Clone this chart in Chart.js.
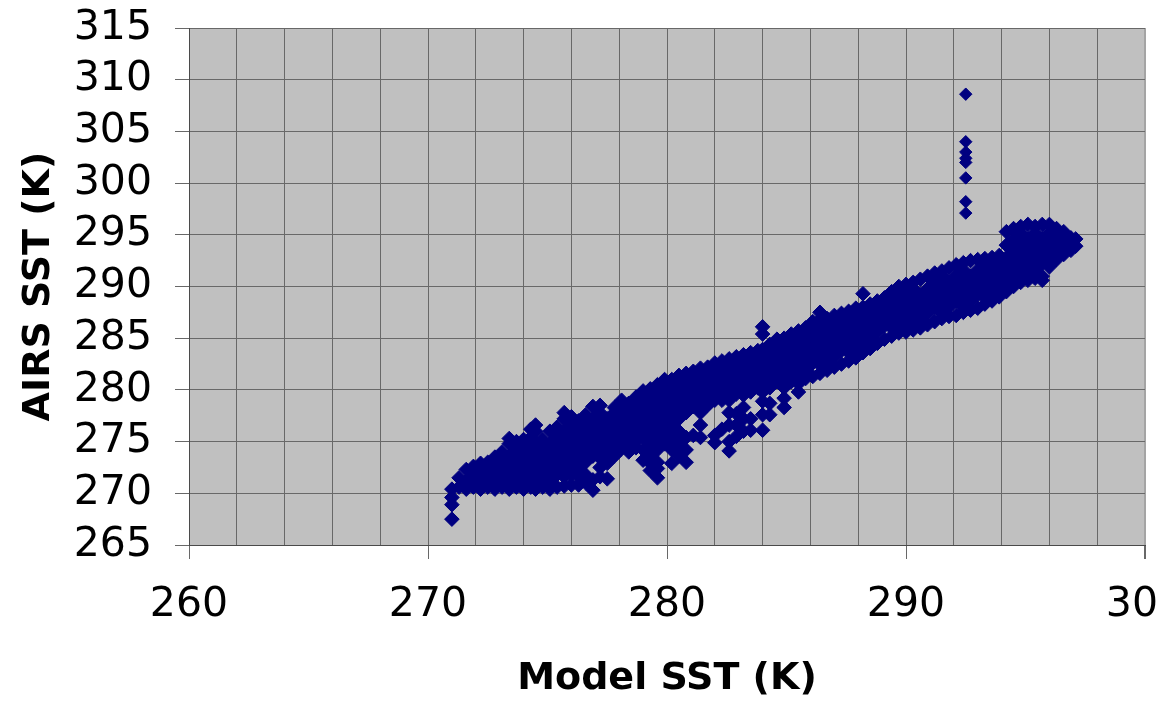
<!DOCTYPE html>
<html lang="en">
<head>
<meta charset="UTF-8">
<title>AIRS SST vs Model SST</title>
<script src="https://cdn.jsdelivr.net/npm/chart.js"></script>
<style>
  html, body { margin: 0; padding: 0; background: #fff; overflow: hidden; }
  /* the original picture is cut on the right, through the "300" label */
  .recorte { width: 1157px; height: 702px; overflow: hidden; }
</style>
</head>
<body>
<div class="recorte">
  <canvas id="graficoSST" width="1185" height="702"></canvas>
</div>

<script>
// Model SST (K) of each column of points
const bandX = [
  271.0, 271.3, 271.6, 271.9, 272.2, 272.5, 272.8, 273.1, 273.4, 273.7,
  274.0, 274.3, 274.5, 274.8, 275.1, 275.4, 275.7, 276.0, 276.3, 276.6,
  276.9, 277.2, 277.5, 277.8, 278.1, 278.4, 278.7, 279.0, 279.3, 279.6,
  279.9, 280.2, 280.5, 280.8, 281.1, 281.4, 281.7, 282.0, 282.3, 282.6,
  282.9, 283.2, 283.5, 283.8, 284.0, 284.3, 284.6, 284.9, 285.2, 285.5,
  285.8, 286.1, 286.4, 286.7, 287.0, 287.3, 287.6, 287.9, 288.2, 288.5,
  288.8, 289.1, 289.4, 289.7, 290.0, 290.3, 290.6, 290.9, 291.2, 291.5,
  291.8, 292.1, 292.4, 292.7, 293.0, 293.3, 293.6, 293.9, 294.2, 294.5,
  294.8, 295.1, 295.4, 295.7, 296.0, 296.3, 296.6, 296.9, 297.1
];

// AIRS SST (K) of the points in each of those columns
const bandY = [
  [267.5, 268.9, 269.6, 270.4],
  [270.6, 271.5],
  [270.4, 271.2, 272.3],
  [270.6, 271.8, 272.6],
  [270.4, 271.2, 272.4, 272.9],
  [270.6, 271.8, 273.0],
  [270.4, 271.2, 272.4, 273.5],
  [270.6, 271.8, 273.0, 274.0],
  [270.4, 271.2, 272.4, 273.6, 274.8, 275.3],
  [270.6, 271.8, 273.0, 274.2, 275.0],
  [270.4, 271.2, 272.4, 273.6, 274.8, 275.2],
  [270.6, 271.8, 273.0, 274.2, 275.4, 276.2],
  [270.4, 271.2, 272.4, 273.6, 274.8, 276.0, 276.6],
  [270.6, 271.8, 273.0, 274.2, 275.2],
  [270.4, 271.2, 272.4, 273.6, 274.8, 276.0],
  [270.6, 271.8, 273.0, 274.2, 275.4, 276.4],
  [270.7, 271.6, 272.4, 273.6, 274.8, 276.0, 277.2, 277.8],
  [270.8, 271.8, 273.0, 274.2, 275.4, 276.6, 277.4],
  [270.8, 271.6, 272.4, 273.6, 274.8, 276.0, 277.0],
  [271.0, 271.8, 273.0, 274.2, 275.4, 276.6, 277.6],
  [270.3, 271.3, 273.6, 274.8, 276.0, 277.2, 278.4],
  [271.6, 272.5, 273.4, 274.2, 275.4, 276.6, 277.8, 278.5],
  [271.4, 272.9, 273.6, 274.8, 276.0, 277.2],
  [273.6, 274.2, 275.4, 276.6, 277.8, 278.3],
  [274.3, 274.8, 276.0, 277.2, 278.4, 279.0],
  [274.0, 274.7, 275.4, 276.6, 277.8, 278.7],
  [274.4, 275.0, 276.0, 277.2, 278.4, 279.3],
  [273.2, 274.2, 275.4, 276.6, 277.8, 279.0, 279.9],
  [272.2, 272.9, 273.6, 274.8, 276.0, 277.2, 278.4, 279.6, 280.1],
  [271.5, 272.4, 273.0, 274.2, 275.4, 276.6, 277.8, 279.0, 280.2, 280.5],
  [274.8, 276.0, 277.2, 278.4, 279.6, 280.8, 281.0],
  [272.9, 274.2, 275.4, 276.6, 277.8, 279.0, 280.2, 281.0],
  [273.6, 274.8, 276.0, 277.2, 278.4, 279.6, 280.8, 281.4],
  [273.0, 274.2, 275.4, 277.8, 279.0, 280.2, 281.4, 281.6],
  [275.6, 278.4, 279.6, 280.8, 281.8],
  [275.4, 276.6, 277.8, 279.0, 280.2, 281.4, 282.1],
  [278.5, 279.6, 280.8, 282.0, 282.2],
  [274.9, 275.6, 279.0, 280.2, 281.4, 282.6],
  [276.2, 279.0, 279.6, 280.8, 282.0, 282.8],
  [274.1, 275.0, 276.6, 277.8, 279.0, 280.2, 281.4, 282.6, 283.0],
  [275.5, 276.6, 277.7, 279.6, 280.8, 282.0, 283.2],
  [276.0, 277.2, 278.3, 279.5, 280.2, 281.4, 282.6, 283.4],
  [276.1, 277.2, 279.8, 280.8, 282.0, 283.2, 283.6],
  [280.2, 281.4, 282.6, 283.8],
  [276.1, 277.6, 278.9, 279.8, 280.8, 282.0, 283.2, 283.9, 285.4, 286.1],
  [277.6, 278.7, 280.2, 281.4, 282.6, 283.8, 284.4],
  [280.8, 282.0, 283.2, 284.4, 284.9],
  [278.3, 279.2, 280.2, 281.4, 282.6, 283.8, 285.0],
  [280.8, 282.0, 283.2, 284.4, 285.4],
  [279.8, 280.6, 281.4, 282.6, 283.8, 285.0, 285.7],
  [281.1, 282.0, 283.2, 284.4, 285.6, 286.0],
  [281.3, 282.6, 283.8, 285.0, 286.2, 286.6],
  [281.6, 282.4, 283.2, 284.4, 285.6, 286.8, 287.5],
  [281.9, 282.6, 283.8, 285.0, 286.2, 286.9],
  [282.2, 283.2, 284.4, 285.6, 286.8, 287.2],
  [282.5, 283.8, 285.0, 286.2, 287.4],
  [282.8, 283.6, 284.4, 285.6, 286.8, 287.6],
  [283.1, 283.8, 285.0, 286.2, 287.4, 287.9],
  [283.6, 284.4, 285.6, 286.8, 288.0, 289.3],
  [284.0, 285.0, 286.2, 287.4, 288.3],
  [284.5, 285.6, 286.8, 288.0, 288.6],
  [284.9, 286.2, 287.4, 288.6, 288.9],
  [285.2, 286.0, 286.8, 288.0, 289.2, 289.5],
  [285.5, 286.2, 287.4, 288.6, 289.8, 290.0],
  [285.6, 286.8, 288.0, 289.2, 290.2],
  [285.8, 286.2, 287.4, 288.6, 289.8, 290.4],
  [286.0, 286.8, 288.0, 289.2, 290.7],
  [286.3, 287.4, 288.6, 289.8, 291.0],
  [286.6, 288.0, 289.2, 290.4, 291.3],
  [286.9, 287.4, 288.6, 289.8, 291.0, 291.5],
  [287.1, 288.0, 289.2, 290.4, 291.8],
  [287.2, 288.6, 289.8, 291.0, 292.1],
  [287.5, 288.0, 289.2, 290.4, 291.6, 292.3],
  [287.7, 288.6, 289.8, 291.0, 292.5],
  [287.9, 289.2, 290.4, 291.6, 292.6],
  [288.3, 288.9, 289.8, 291.0, 292.2, 292.7],
  [288.6, 289.2, 290.4, 291.6, 292.8],
  [289.0, 289.8, 291.0, 292.2, 293.0],
  [289.5, 290.4, 291.6, 292.8, 294.0, 295.3],
  [290.0, 291.0, 292.2, 293.4, 294.6, 295.6],
  [290.4, 291.6, 292.8, 294.0, 295.2, 295.8],
  [290.6, 291.0, 292.2, 293.4, 294.6, 296.0],
  [290.8, 291.6, 292.8, 294.0, 295.2, 295.8],
  [290.6, 291.0, 292.2, 293.4, 294.6, 296.0],
  [291.9, 292.8, 294.0, 295.2, 296.0],
  [292.6, 293.4, 294.6, 295.6],
  [293.1, 294.0, 295.3],
  [293.5, 294.7],
  [293.9, 294.6]
];

// the vertical run of stray points near 292.5 K
const outlierX = [292.5, 292.5, 292.5, 292.5, 292.5, 292.5, 292.5, 292.5];
const outlierY = [297.1, 298.2, 300.5, 302.0, 302.4, 303.0, 304.0, 308.6];

const xTicks = [260, 270, 280, 290, 300];

const pontosBanda = [];
bandX.forEach((x, i) => {
  bandY[i].forEach(y => pontosBanda.push({ x: x, y: y }));
});
const pontosFora = outlierX.map((x, i) => ({ x: x, y: outlierY[i] }));

// gray plot area
const fundoPlot = {
  id: 'fundoPlot',
  beforeDraw(chart) {
    const { ctx, chartArea: a } = chart;
    ctx.save();
    ctx.fillStyle = '#c0c0c0';
    ctx.fillRect(a.left, a.top, a.right - a.left, a.bottom - a.top);
    ctx.restore();
  }
};

const corGrade = '#686868';
const azul = '#000080';

new Chart(document.getElementById('graficoSST'), {
  type: 'scatter',
  data: {
    datasets: [{
      label: 'AIRS SST',
      data: pontosBanda,
      pointStyle: 'rectRot',
      pointRadius: 7.3,
      backgroundColor: azul,
      borderColor: azul,
      borderWidth: 1
    }, {
      label: 'AIRS SST (stray)',
      data: pontosFora,
      pointStyle: 'rectRot',
      pointRadius: 6.2,
      backgroundColor: azul,
      borderColor: azul,
      borderWidth: 1
    }]
  },
  options: {
    responsive: false,
    animation: false,
    events: [],
    layout: { padding: { top: 28, right: 40, bottom: 0, left: 0 } },
    plugins: {
      legend: { display: false },
      tooltip: { enabled: false }
    },
    scales: {
      x: {
        type: 'linear',
        min: 260,
        max: 300,
        afterFit: s => { s.height = 157; s.paddingLeft = 0; s.paddingRight = 0; },
        ticks: {
          stepSize: 2,
          autoSkip: false,
          maxRotation: 0,
          padding: 22,
          color: '#000',
          font: { family: 'DejaVu Sans', size: 41 },
          callback: v => xTicks.includes(v) ? String(v) : ''
        },
        grid: {
          color: c => (c.tick && c.tick.value === 300) ? '#a4a4a4' : corGrade,
          lineWidth: c => (c.tick && c.tick.value === 300) ? 2 : 1,
          tickLength: 14,
          tickColor: c => (c.tick && xTicks.includes(c.tick.value)) ? corGrade : 'rgba(0,0,0,0)'
        },
        border: { color: '#4a4a4a', width: 1 },
        title: {
          display: true,
          text: 'Model SST (K)',
          color: '#000',
          font: { family: 'DejaVu Sans', size: 38, weight: 'bold' },
          padding: { top: 0, bottom: 0 }
        }
      },
      y: {
        min: 265,
        max: 315,
        afterFit: s => { s.width = 189; s.paddingTop = 0; s.paddingBottom = 0; },
        ticks: {
          stepSize: 5,
          autoSkip: false,
          padding: 23,
          color: '#000',
          font: { family: 'DejaVu Sans', size: 41 }
        },
        grid: { color: corGrade, tickLength: 14, tickColor: corGrade },
        border: { color: '#4a4a4a', width: 1 },
        title: {
          display: true,
          text: 'AIRS SST (K)',
          color: '#000',
          font: { family: 'DejaVu Sans', size: 38, weight: 'bold' },
          padding: { top: 16, bottom: 0 }
        }
      }
    }
  },
  plugins: [fundoPlot]
});
</script>
</body>
</html>
